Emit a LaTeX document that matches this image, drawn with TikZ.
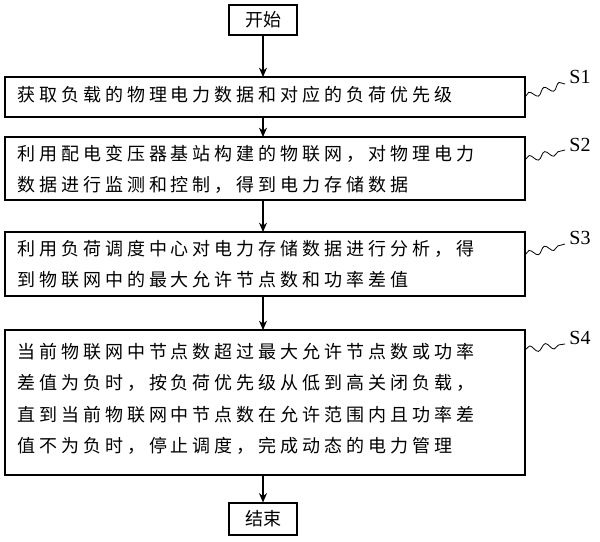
\documentclass[tikz,border=0pt]{standalone}
\usepackage{fontspec}
\newfontfamily\cjk[LetterSpace=22]{Noto Sans CJK SC}
\newfontfamily\cjkb{Noto Sans CJK SC}
\setmainfont{Liberation Serif}
\usetikzlibrary{arrows.meta,decorations.pathmorphing}
\begin{document}
\begin{tikzpicture}[x=0.75pt,y=-0.75pt,
  box/.style={draw,line width=0.8pt,inner sep=0pt},
  txt/.style={anchor=north west,align=left,font=\cjk\fontsize{13.5}{23.5}\selectfont,inner sep=0pt},
  arr/.style={-{Stealth[length=7pt,width=6pt]},line width=0.8pt},
  wave/.style={decorate,decoration={snake,amplitude=2.5pt,segment length=12pt},line width=0.6pt},
  lab/.style={font=\fontsize{15}{17}\selectfont}]
\useasboundingbox (0,0) rectangle (600,542);
\node[box,minimum width=51pt,minimum height=22.5pt] (start) at (263,20) {\cjkb\fontsize{13.5}{15}\selectfont 开始};
\node[box,minimum width=51pt,minimum height=24pt] (end) at (263,519) {\cjkb\fontsize{13.5}{15}\selectfont 结束};
\draw[box] (5,77) rectangle (525,117); \coordinate (b1t) at (263,77); \coordinate (b1b) at (263,117);
\draw[box] (5,137) rectangle (525,200); \coordinate (b2t) at (263,137); \coordinate (b2b) at (263,200);
\draw[box] (5,232) rectangle (525,296); \coordinate (b3t) at (263,232); \coordinate (b3b) at (263,296);
\draw[box] (5,330) rectangle (525,475); \coordinate (b4t) at (263,330); \coordinate (b4b) at (263,475);
\node[txt] (t1) at (17,86) {获取负载的物理电力数据和对应的负荷优先级};
\node[txt] (t2) at (17,145) {利用配电变压器基站构建的物联网，对物理电力\\数据进行监测和控制，得到电力存储数据};
\node[txt] (t3) at (17,240) {利用负荷调度中心对电力存储数据进行分析，得\\到物联网中的最大允许节点数和功率差值};
\node[txt] (t4) at (17,343) {当前物联网中节点数超过最大允许节点数或功率\\差值为负时，按负荷优先级从低到高关闭负载，\\直到当前物联网中节点数在允许范围内且功率差\\值不为负时，停止调度，完成动态的电力管理};
\draw[arr] (start) -- (b1t);
\draw[arr] (b1b) -- (b2t);
\draw[arr] (b2b) -- (b3t);
\draw[arr] (b3b) -- (b4t);
\draw[arr] (b4b) -- (end);
\node[lab] (s1) at (580,77) {S1};
\node[lab] (s2) at (580,145) {S2};
\node[lab] (s3) at (580,238) {S3};
\node[lab] (s4) at (580,338) {S4};
\draw[wave] (525,97) -- (565,84);
\draw[wave] (525,160) -- (565,150);
\draw[wave] (525,255) -- (565,244);
\draw[wave] (525,350) -- (565,344);
\end{tikzpicture}
\end{document}
